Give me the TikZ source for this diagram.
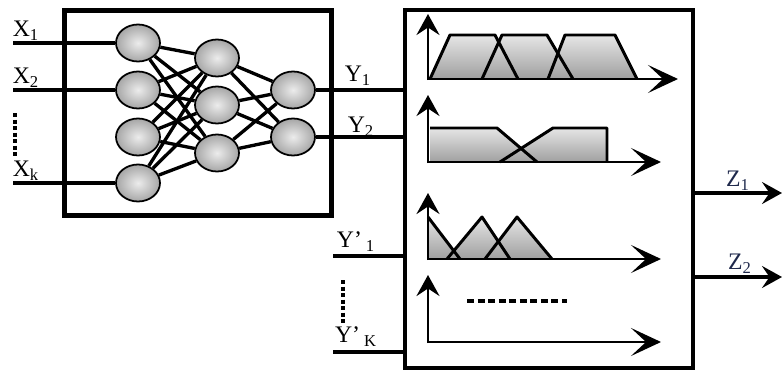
\documentclass[tikz,border=0pt]{standalone}
\usepackage{fontspec}
\setmainfont{Liberation Serif}
\usetikzlibrary{positioning, calc, arrows.meta, shapes.geometric}

\definecolor{zblue}{RGB}{30,40,75}

\begin{document}
\begin{tikzpicture}[x=0.02cm, y=-0.02cm,
    neuron/.style={ellipse, draw=black, line width=1pt, minimum width=0.88cm,
        minimum height=0.74cm, inner sep=0pt, inner color=gray!15, outer color=gray!70},
    link/.style={line width=1.9pt},
    wire/.style={line width=2.2pt},
    frame/.style={draw, line width=2.8pt, inner sep=0pt},
    yaxis/.style={line width=1.6pt, -{Stealth[length=0.42cm, width=0.46cm, inset=0.15cm]}},
    xaxis/.style={line width=1.6pt, -{Stealth[length=0.6cm, width=0.56cm, inset=0.3cm]}},
    mffill/.style={top color=gray!20, bottom color=gray!75},
    mfline/.style={line width=1.7pt, line join=round},
    lbl/.style={inner sep=1pt, font=\fontsize{13.5}{15}\selectfont}]

    \useasboundingbox (0,0) rectangle (782,372);

    % ================= Neural network block =================
    \node[frame, minimum width=5.34cm, minimum height=4.1cm] (nnbox) at (198,113) {};

    % Layers
    \foreach \n/\y in {1/43, 2/90, 3/137, 4/183}
        \node[neuron] (i\n) at (138,\y) {};
    \foreach \n/\y in {1/58, 2/105, 3/153}
        \node[neuron] (h\n) at (217,\y) {};
    \foreach \n/\y in {1/90, 2/137}
        \node[neuron] (o\n) at (293,\y) {};

    % Connections
    \foreach \a in {1,...,4}
        \foreach \b in {1,...,3}
            \draw[link] (i\a) -- (h\b);
    \foreach \a in {1,...,3}
        \foreach \b in {1,2}
            \draw[link] (h\a) -- (o\b);

    % Inputs
    \coordinate (x1in) at (13,43);
    \coordinate (x2in) at (13,90);
    \coordinate (xkin) at (13,183);
    \draw[wire] (x1in) -- (i1);
    \draw[wire] (x2in) -- (i2);
    \draw[wire] (xkin) -- (i4);
    \node[lbl] (x1) at (26,31) {X\textsubscript{1}};
    \node[lbl] (x2) at (26,78) {X\textsubscript{2}};
    \node[lbl] (xk) at (26,171) {X\textsubscript{k}};
    \draw[line width=2.4pt, dash pattern=on 2.5pt off 1.2pt] (15,113) -- (15,157);

    % ================= Fuzzy block =================
    \node[frame, minimum width=5.76cm, minimum height=7.16cm] (fzbox) at (549,189) {};

    \draw[wire] (o1) -- (o1 -| fzbox.west);
    \draw[wire] (o2) -- (o2 -| fzbox.west);
    \node[lbl] (y1) at (358,76) {Y\textsubscript{1}};
    \node[lbl] (y2) at (361,127) {Y\textsubscript{2}};

    % Extra inputs
    \coordinate (yp1in) at (333,256);
    \coordinate (ypkin) at (333,352);
    \draw[wire] (yp1in) -- (yp1in -| fzbox.west);
    \draw[wire] (ypkin) -- (ypkin -| fzbox.west);
    \node[lbl] (yp1) at (356,242) {Y’\,\textsubscript{1}};
    \node[lbl] (ypk) at (356,337) {Y’\,\textsubscript{K}};
    \draw[line width=2.4pt, dash pattern=on 2.5pt off 1.2pt] (343,280) -- (343,323);

    % Membership functions 1
    \fill[mffill] (430,79) -- (450,35) -- (495,35) -- (518,79) -- cycle;
    \fill[mffill] (482,79) -- (502,35) -- (547,35) -- (573,79) -- cycle;
    \fill[mffill] (548,79) -- (565,35) -- (615,35) -- (637,79) -- cycle;
    \draw[mfline] (430,79) -- (450,35) -- (495,35) -- (518,79);
    \draw[mfline] (482,79) -- (502,35) -- (547,35) -- (573,79);
    \draw[mfline] (548,79) -- (565,35) -- (615,35) -- (637,79);
    \draw[yaxis] (428,80) -- (428,14);
    \draw[xaxis] (428,79) -- (678,79);

    % Membership functions 2
    \fill[mffill] (430,162) -- (430,128) -- (497,128) -- (537,162) -- cycle;
    \fill[mffill] (500,162) -- (553,128) -- (607,128) -- (607,162) -- cycle;
    \draw[mfline] (430,128) -- (497,128) -- (537,162);
    \draw[mfline] (500,162) -- (553,128) -- (607,128) -- (607,162);
    \draw[yaxis] (428,163) -- (428,95);
    \draw[xaxis] (428,162) -- (661,162);

    % Membership functions 3
    \fill[mffill] (428,259) -- (428,217) -- (460,259) -- cycle;
    \fill[mffill] (447,259) -- (482,217) -- (510,259) -- cycle;
    \fill[mffill] (485,259) -- (517,217) -- (552,259) -- cycle;
    \draw[mfline] (428,217) -- (460,259);
    \draw[mfline] (447,259) -- (482,217) -- (510,259);
    \draw[mfline] (485,259) -- (517,217) -- (552,259);
    \draw[yaxis] (428,260) -- (428,193);
    \draw[xaxis] (428,259) -- (661,259);

    % Membership functions 4
    \draw[yaxis] (428,343) -- (428,275);
    \draw[xaxis] (428,342) -- (661,342);
    \draw[line width=1.8pt, dash pattern=on 4pt off 2pt] (467,301) -- (567,301);

    % Outputs
    \coordinate (z1out) at (782,193);
    \coordinate (z2out) at (782,277);
    \draw[wire, -{Stealth[length=0.4cm, width=0.44cm, inset=0.15cm]}] (fzbox.east |- z1out) -- (z1out);
    \draw[wire, -{Stealth[length=0.4cm, width=0.44cm, inset=0.15cm]}] (fzbox.east |- z2out) -- (z2out);
    \node[lbl, text=zblue] (z1) at (738,181) {Z\textsubscript{1}};
    \node[lbl, text=zblue] (z2) at (740,264) {Z\textsubscript{2}};

\end{tikzpicture}
\end{document}
